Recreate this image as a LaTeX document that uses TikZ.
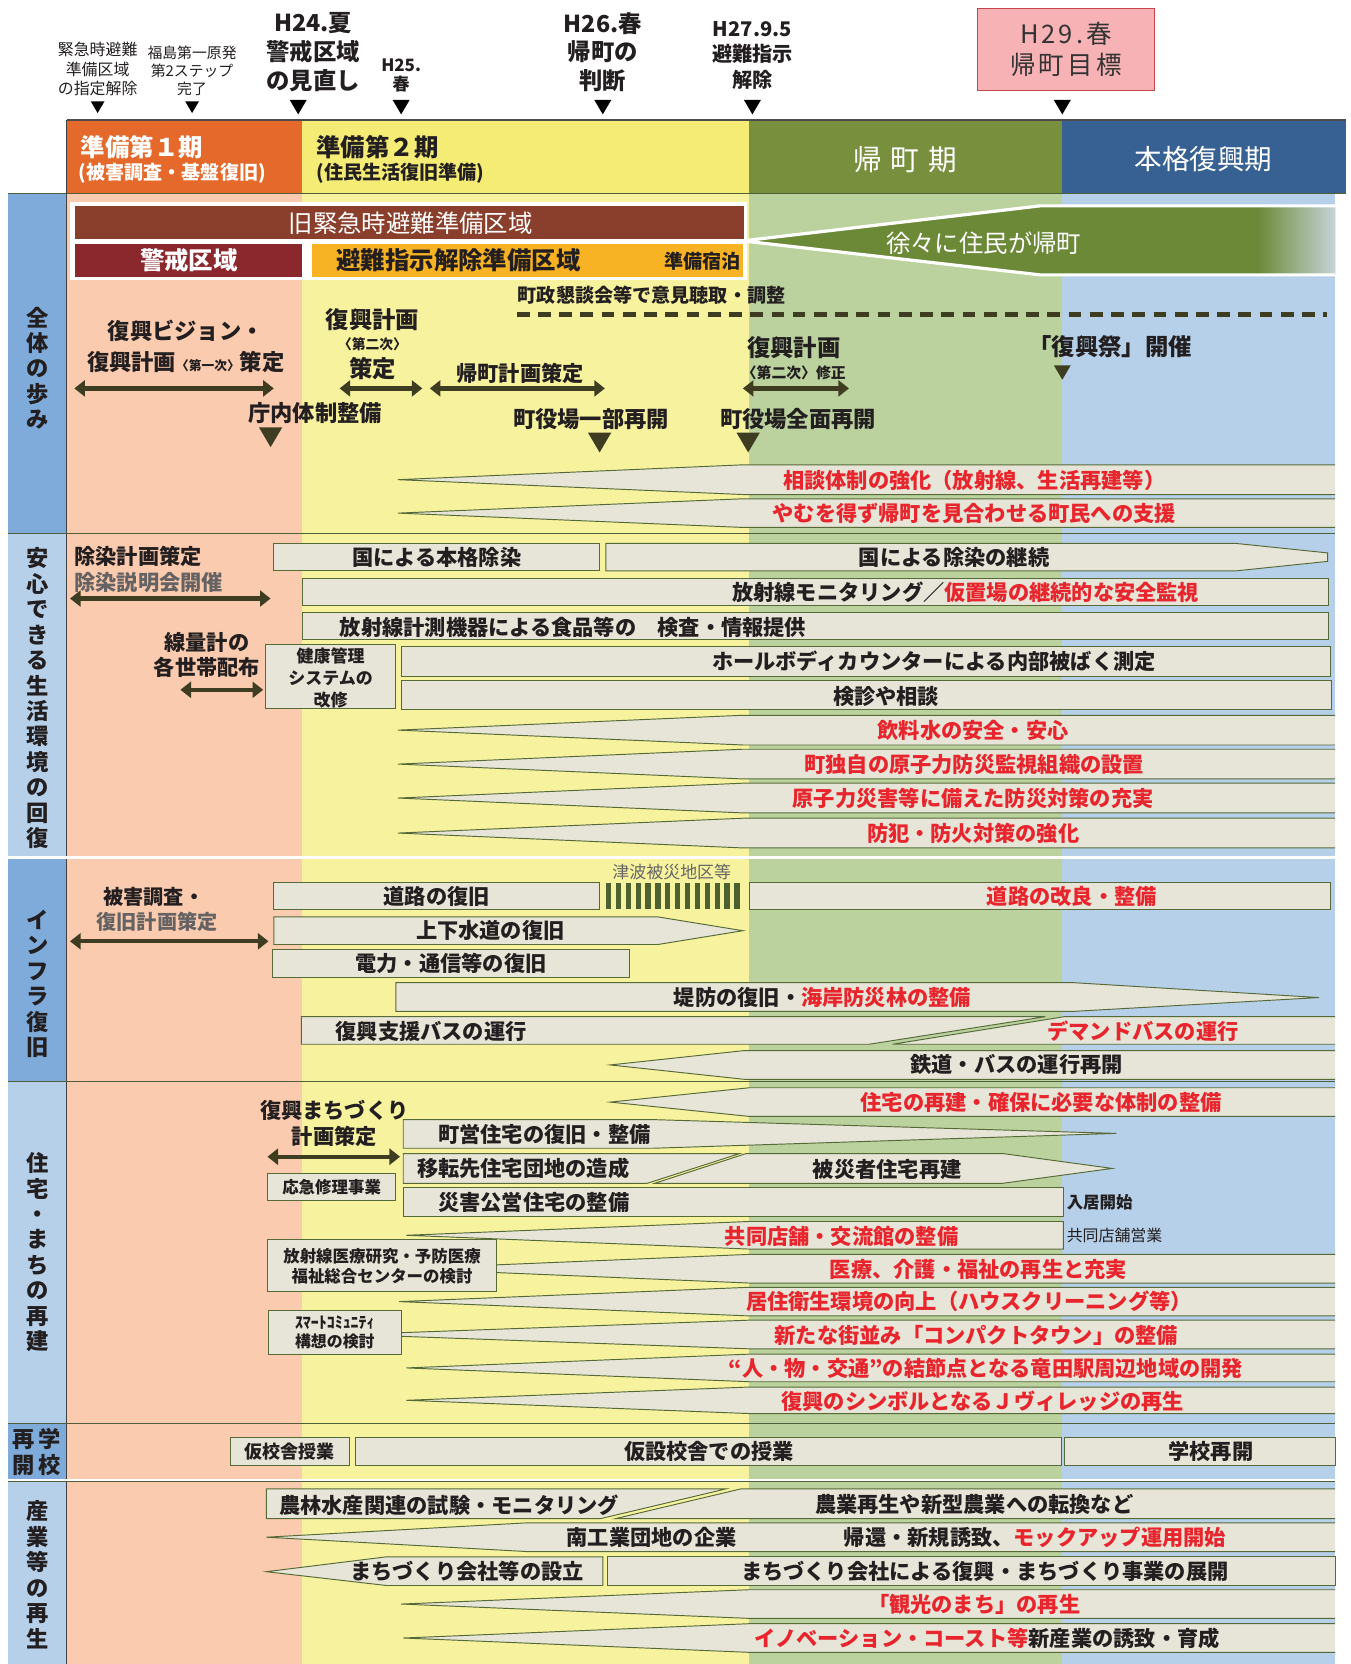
\documentclass[tikz,border=0pt]{standalone}
\usepackage{fontspec}
\setmainfont{Noto Sans CJK JP}
\usetikzlibrary{arrows.meta}
\definecolor{hOr}{HTML}{E4692A}
\definecolor{hYe}{HTML}{F4EC74}
\definecolor{hGr}{HTML}{78903E}
\definecolor{hBl}{HTML}{386193}
\definecolor{bOr}{HTML}{FACBAE}
\definecolor{bYe}{HTML}{F7F29E}
\definecolor{bGr}{HTML}{BBD29E}
\definecolor{bBl}{HTML}{B6D0EA}
\definecolor{lbM}{HTML}{7EABDA}
\definecolor{lbL}{HTML}{B6D0EA}
\definecolor{brn}{HTML}{8A3F2C}
\definecolor{dred}{HTML}{8B282D}
\definecolor{oyel}{HTML}{F8B324}
\definecolor{garr}{HTML}{6C8938}
\definecolor{fadec}{HTML}{C5D3D6}
\definecolor{beige}{HTML}{E7E4D8}
\definecolor{edgc}{HTML}{566A38}
\definecolor{rtx}{HTML}{E8252C}
\definecolor{txc}{HTML}{231F20}
\definecolor{arrc}{HTML}{3E3D22}
\definecolor{pkF}{HTML}{F6B2B4}
\definecolor{pkB}{HTML}{C8454B}
\definecolor{stripe}{HTML}{4C6030}
\definecolor{sepc}{HTML}{4F5F38}
\newcommand\tdn[4]{\fill[#4] ({#1-#3},{#2-0.85*#3}) -- ({#1+#3},{#2-0.85*#3}) -- (#1,{#2+0.85*#3}) -- cycle;}
\newcommand\wdg[4]{%
 \fill[beige] (#1,{(#2+#3)/2}) -- (#4,#2) -- (1258,#2) -- (1258,#3) -- (#4,#3) -- cycle;
 \draw[bline] (1258,#2) -- (#4,#2) -- (#1,{(#2+#3)/2}) -- (#4,#3) -- (1258,#3);}
\begin{document}
\begin{tikzpicture}[x=1pt,y=-1pt,
 fs/.style 2 args={font=\fontsize{#1}{#2}\selectfont\bfseries},
 fr/.style 2 args={font=\fontsize{#1}{#2}\selectfont},
 every node/.style={inner sep=0pt, text=txc},
 bline/.style={draw=edgc, line width=0.9pt},
 bx/.style={draw=edgc, fill=beige, line width=0.9pt},
 darr/.style={{Triangle[length=10pt,width=15pt]}-{Triangle[length=10pt,width=15pt]}, line width=4pt, draw=arrc},
 rt/.style={text=rtx},
 bt/.style={fs={20}{24}}]
\useasboundingbox (0,0) rectangle (1273,1568);
% ---------- header ----------
\fill[hOr] (63,113) rectangle (285,182);
\fill[hYe] (285,113) rectangle (706,182);
\fill[hGr] (706,113) rectangle (1001,182);
\fill[hBl] (1001,113) rectangle (1268,182);
\draw[gray!60!black, line width=1.2pt] (63,113) -- (1268,113);
% ---------- body columns ----------
\fill[bOr] (63,182) rectangle (285,1568);
\fill[bYe] (285,182) rectangle (706,1568);
\fill[bGr] (706,182) rectangle (1001,1568);
\fill[bBl] (1001,182) rectangle (1258,1568);
\fill[lbM] (8,182) rectangle (63,503);
\fill[lbL] (8,503) rectangle (63,808);
\fill[lbM] (8,808) rectangle (63,1019);
\fill[lbL] (8,1019) rectangle (63,1341);
\fill[lbM] (8,1341) rectangle (63,1395);
\fill[lbL] (8,1395) rectangle (63,1568);
\draw[sepc, line width=1pt] (8,182) -- (1268,182);
\draw[gray!50!black, line width=1pt] (63,113) -- (63,1568);
\draw[sepc, line width=1pt] (8,503) -- (1258,503);
\draw[sepc, line width=0.8pt, double=white, double distance=2pt] (8,808) -- (1258,808);
\draw[sepc, line width=1pt] (8,1019) -- (1258,1019);
\draw[sepc, line width=1pt] (8,1341) -- (1258,1341);
\draw[sepc, line width=0.8pt, double=white, double distance=2pt] (8,1395) -- (1258,1395);
% ---------- top markers ----------
\node[fr={15}{18}, align=center] (m1) at (92,65) {緊急時避難\\準備区域\\の指定解除};
\node[fr={14}{17}, align=center] (m2) at (181,67) {福島第一原発\\第2ステップ\\完了};
\node[fs={22}{27}, align=center] (m3) at (295,49) {H24.夏\\警戒区域\\の見直し};
\node[fs={16}{18}, align=center] (m4) at (378,71) {H25.\\春};
\node[fs={22}{27}, align=center] (m5) at (568,49) {H26.春\\帰町の\\判断};
\node[fs={19}{24}, align=center] (m6) at (709,52) {H27.9.5\\避難指示\\解除};
\node[draw=pkB, line width=1.2pt, fill=pkF, minimum width=167, minimum height=77,
      fr={24}{29}, align=center, text=black!80] (m7) at (1004.5,46.5)
      {\addfontfeature{LetterSpace=12}H29.春\\\addfontfeature{LetterSpace=12}帰町目標};
\tdn{92}{101}{6.5}{black}
\tdn{181}{101}{6.5}{black}
\tdn{281}{101}{8}{black}
\tdn{378}{101}{8}{black}
\tdn{568}{101}{8}{black}
\tdn{709}{101}{8}{black}
\tdn{1001}{101}{8}{black}
% ---------- header texts ----------
\node[fs={23}{26}, anchor=west, text=white] (h1a) at (76,139) {準備第１期};
\node[fs={18}{20}, anchor=west, text=white] (h1b) at (74,163) {(被害調査・基盤復旧)};
\node[fs={23}{26}, anchor=west] (h2a) at (298,139) {準備第２期};
\node[fs={18}{20}, anchor=west] (h2b) at (298,163) {(住民生活復旧準備)};
\node[fr={27}{30}, text=white] (h3) at (853,150) {帰\hspace{8pt}町\hspace{8pt}期};
\node[fr={26}{30}, text=white] (h4) at (1134,150) {本格復興期};
% ---------- left labels ----------
\node[fs={21}{24}, align=center] (L1) at (35,347) {全\\体\\の\\歩\\み};
\node[fs={21}{24}, align=center] (L2) at (35,658) {安\\心\\で\\き\\る\\生\\活\\環\\境\\の\\回\\復};
\node[fs={21}{24}, align=center] (L3) at (35,927) {イ\\ン\\フ\\ラ\\復\\旧};
\node[fs={21}{24}, align=center] (L4) at (35,1180) {住\\宅\\・\\ま\\ち\\の\\再\\建};
\node[fs={21}{24}, align=center] (L5) at (35,1368) {再\,学\\開\,校};
\node[fs={21}{24}, align=center] (L6) at (35,1484) {産\\業\\等\\の\\再\\生};
% ---------- section 1 ----------
\fill[white] (66,190) rectangle (704,264);
\fill[brn] (71,194) rectangle (701,225);
\fill[dred] (71,230) rectangle (285,261);
\fill[oyel] (294,230) rectangle (700,261);
\node[fr={23}{26}, text=white] (z1) at (387,210) {旧緊急時避難準備区域};
\node[fs={23}{26}, text=white] (z2) at (178,245) {警戒区域};
\node[fs={23}{26}] (z3) at (432,245) {避難指示解除準備区域};
\node[fs={18}{20}] (z4) at (662,246) {準備宿泊};
\path[fill=garr] (700,227) -- (980,194) -- (1258,194) -- (1258,259) -- (980,259) -- cycle;
\shade[left color=garr, right color=fadec] (1185,195.5) rectangle (1258,257.5);
\draw[white, line width=3pt] (1258,194) -- (980,194) -- (700,227) -- (980,259) -- (1258,259);
\node[fr={23}{26}, text=white] (z5) at (927,229) {徐々に住民が帰町};
\node[fs={18}{20}] (c1) at (614,278) {町政懇談会等で意見聴取・調整};
\coordinate (d1) at (487,296); \coordinate (d2) at (1250,296);
\draw[arrc, line width=4.5pt, dash pattern=on 12pt off 8pt] (d1) -- (d2);
\node[fs={21}{25}] (s1a) at (175,312) {復興ビジョン・};
\node[fs={21}{25}] (s1b) at (175,341) {復興計画{\fontsize{12}{12}\selectfont〈第一次〉}策定};
\coordinate (a1l) at (70,366); \coordinate (a1r) at (258,366);
\draw[darr] (a1l) -- (a1r);
\node[fs={22}{25}] (s2a) at (351,301) {復興計画};
\node[fs={13}{15}] (s2b) at (351,324) {〈第二次〉};
\node[fs={22}{25}] (s2c) at (351,347) {策定};
\coordinate (a2l) at (320,366); \coordinate (a2r) at (398,366);
\draw[darr] (a2l) -- (a2r);
\node[fs={20}{24}] (s3) at (490,352) {帰町計画策定};
\coordinate (a3l) at (405,366); \coordinate (a3r) at (570,366);
\draw[darr] (a3l) -- (a3r);
\node[fs={21}{24}] (s4) at (297,389) {庁内体制整備};
\tdn{255}{412}{11}{arrc}
\node[fs={21}{24}] (s5) at (557,395) {町役場一部再開};
\tdn{565}{417}{11}{arrc}
\node[fs={22}{25}] (s6a) at (748,328) {復興計画};
\node[fs={14}{16}] (s6b) at (748,351) {〈第二次〉修正};
\coordinate (a4l) at (700,366); \coordinate (a4r) at (800,366);
\draw[darr] (a4l) -- (a4r);
\node[fs={21}{24}] (s7) at (752,395) {町役場全面再開};
\tdn{705}{417}{11}{arrc}
\node[fs={22}{25}] (s8) at (1046,327) {「復興祭」開催};
\tdn{1001}{351}{8}{arrc}
\wdg{375}{438}{466}{700}
\node[bt, rt] (w1) at (918,453) {相談体制の強化（放射線、生活再建等）};
\wdg{375}{470}{497}{700}
\node[bt, rt] (w2) at (918,484) {やむを得ず帰町を見合わせる町民への支援};
% ---------- section 2 ----------
\node[bt, anchor=west] (k0a) at (70,524) {除染計画策定};
\node[bt, anchor=west, text=txc!70] (k0b) at (70,549) {除染説明会開催};
\coordinate (a5l) at (66,564); \coordinate (a5r) at (255,564);
\draw[darr] (a5l) -- (a5r);
\filldraw[bx] (258,512) rectangle (565,538);
\node[bt] (k1) at (411.5,525) {国による本格除染};
\filldraw[bx] (571,512) -- (1164,512) -- (1251,521) -- (1251,529) -- (1164,538) -- (571,538) -- cycle;
\node[bt] (k2) at (899,525) {国による除染の継続};
\filldraw[bx] (285,545) rectangle (1252,571);
\node[bt] (k3) at (910,558) {放射線モニタリング／\textcolor{rtx}{仮置場の継続的な安全監視}};
\filldraw[bx] (285,577) rectangle (1252,603);
\node[bt] (k4) at (540,591) {放射線計測機器による食品等の　検査・情報提供};
\node[bt] (k5a) at (195,605) {線量計の};
\node[bt] (k5b) at (195,629) {各世帯配布};
\coordinate (a6l) at (170,650); \coordinate (a6r) at (248,650);
\draw[darr] (a6l) -- (a6r);
\filldraw[bx] (250,607) rectangle (373,668);
\node[fs={16}{20.5}, align=center] (k6) at (311.5,639) {健康管理\\システムの\\改修};
\filldraw[bx] (378,609) rectangle (1254,637);
\node[bt] (k7) at (880,623) {ホールボディカウンターによる内部被ばく測定};
\filldraw[bx] (378,641) rectangle (1255,669);
\node[bt] (k8) at (835,656) {検診や相談};
\wdg{375}{674}{702}{700}
\node[bt, rt] (k9) at (917,688) {飲料水の安全・安心};
\wdg{375}{706}{734}{700}
\node[bt, rt] (k10) at (918,720) {町独自の原子力防災監視組織の設置};
\wdg{375}{738}{766}{700}
\node[bt, rt] (k11) at (917,752) {原子力災害等に備えた防災対策の充実};
\wdg{375}{771}{799}{700}
\node[bt, rt] (k12) at (917,785) {防犯・防火対策の強化};
% ---------- section 3 ----------
\node[fs={19}{22}] (f1) at (145,845) {被害調査・};
\node[fs={19}{22}, text=txc!70] (f2) at (148,869) {復旧計画策定};
\coordinate (a7l) at (66,887); \coordinate (a7r) at (253,887);
\draw[darr] (a7l) -- (a7r);
\node[fr={16}{18}, text=black!60] (f3) at (633,822) {津波被災地区等};
\foreach \i in {0,...,13} {\fill[stripe] ({571+\i*9.3},832) rectangle ++(5,25);}
\filldraw[bx] (258,832) rectangle (565,857);
\node[bt] (f4) at (411.5,845) {道路の復旧};
\filldraw[bx] (706,832) rectangle (1254,857);
\node[bt, rt] (f5) at (1010,845) {道路の改良・整備};
\filldraw[bx] (258,864) -- (620,864) -- (700,877) -- (620,890) -- (258,890) -- cycle;
\node[bt] (f6) at (462,877) {上下水道の復旧};
\filldraw[bx] (257,895) rectangle (593,921);
\node[bt] (f7) at (425,908) {電力・通信等の復旧};
\filldraw[bx] (373,926) -- (1012,926) -- (1243,940) -- (1012,953) -- (373,953) -- cycle;
\node[bt] (f8) at (775,940) {堤防の復旧・\textcolor{rtx}{海岸防災林の整備}};
\filldraw[bx] (284,958) -- (985,958) -- (819,984) -- (284,984) -- cycle;
\node[bt, anchor=west] (f9) at (316,972) {復興支援バスの運行};
\fill[beige] (1003,958) -- (1258,958) -- (1258,984) -- (841,984) -- cycle;
\draw[bline] (1258,958) -- (1003,958) -- (841,984) -- (1258,984);
\node[bt, rt] (f10) at (1077,972) {デマンドバスの運行};
\wdg{575}{990}{1017}{701}
\node[bt] (f11) at (958,1003) {鉄道・バスの運行再開};
% ---------- section 4 ----------
\wdg{575}{1025}{1052}{706}
\node[bt, rt] (g1) at (981,1039) {住宅の再建・確保に必要な体制の整備};
\node[bt] (g2a) at (315,1046) {復興まちづくり};
\node[bt] (g2b) at (315,1071) {計画策定};
\coordinate (a8l) at (252,1090); \coordinate (a8r) at (377,1090);
\draw[darr] (a8l) -- (a8r);
\filldraw[bx] (380,1055) -- (615,1055) -- (1052,1068) -- (615,1082) -- (380,1082) -- cycle;
\node[bt] (g3) at (513,1069) {町営住宅の復旧・整備};
\filldraw[bx] (380,1087) -- (697,1087) -- (610,1115) -- (380,1115) -- cycle;
\node[bt] (g4) at (493,1101) {移転先住宅団地の造成};
\filldraw[bx] (703,1087) -- (945,1087) -- (1048,1101) -- (945,1115) -- (617,1115) -- cycle;
\node[bt] (g5) at (836,1102) {被災者住宅再建};
\filldraw[bx] (252,1106) rectangle (373,1131);
\node[fs={15.5}{18}] (g6) at (312.5,1118.5) {応急修理事業};
\filldraw[bx] (380,1119) rectangle (1002,1146);
\node[bt] (g7) at (503,1133) {災害公営住宅の整備};
\node[fs={15.5}{18}, anchor=west] (g8) at (1005,1133) {入居開始};
\filldraw[bx] (383,1164) -- (706,1151) -- (1002,1151) -- (1002,1177) -- (706,1177) -- cycle;
\node[bt, rt] (g9) at (793,1165) {共同店舗・交流館の整備};
\node[fr={15}{18}, anchor=west] (g10) at (1005,1164) {共同店舗営業};
\wdg{380}{1182}{1209}{706}
\node[bt, rt] (g11) at (922,1196) {医療、介護・福祉の再生と充実};
\filldraw[bx] (252,1168) rectangle (468,1217);
\node[fs={15.5}{19}, align=center] (g12) at (360,1193) {放射線医療研究・予防医療\\福祉総合センターの検討};
\wdg{376}{1213}{1240}{706}
\node[bt, rt] (g13) at (913,1226) {居住衛生環境の向上（ハウスクリーニング等）};
\wdg{330}{1244}{1271}{706}
\node[bt, rt] (g14) at (920,1258) {新たな街並み「コンパクトタウン」の整備};
\filldraw[bx] (253,1235) rectangle (378,1276);
\node[fs={15}{18}, align=center] (g15) at (315.5,1256) {ｽﾏｰﾄｺﾐｭﾆﾃｨ\\構想の検討};
\wdg{383}{1276}{1302}{706}
\node[bt, rt] (g16) at (929,1289) {“人・物・交通”の結節点となる竜田駅周辺地域の開発};
\wdg{383}{1307}{1332}{706}
\node[bt, rt] (g17) at (926,1320) {復興のシンボルとなるＪヴィレッジの再生};
% ---------- section 5 ----------
\filldraw[bx] (217,1355) rectangle (329,1381);
\node[fs={17}{20}] (e1) at (273,1368) {仮校舎授業};
\filldraw[bx] (335,1355) rectangle (1000,1381);
\node[bt] (e2) at (668,1368) {仮設校舎での授業};
\filldraw[bx] (1003,1355) rectangle (1258,1381);
\node[bt] (e3) at (1141,1368) {学校再開};
% ---------- section 6 ----------
\filldraw[bx] (251,1403) -- (684,1403) -- (566,1431) -- (251,1431) -- cycle;
\node[bt, anchor=west] (i1) at (263,1418) {農林水産関連の試験・モニタリング};
\fill[beige] (698,1403) -- (1258,1403) -- (1258,1431) -- (580,1431) -- cycle;
\draw[bline] (1258,1403) -- (698,1403) -- (580,1431) -- (1258,1431);
\node[bt] (i2) at (918,1418) {農業再生や新型農業への転換など};
\wdg{251}{1435}{1462}{496}
\node[bt] (i3) at (614,1449) {南工業団地の企業};
\node[bt, anchor=west] (i4) at (795,1449) {帰還・新規誘致、\textcolor{rtx}{モックアップ運用開始}};
\filldraw[bx] (251,1481) -- (364,1467) -- (568,1467) -- (568,1494) -- (364,1494) -- cycle;
\node[bt] (i5) at (440,1481) {まちづくり会社等の設立};
\filldraw[bx] (572,1467) rectangle (1258,1494);
\node[bt] (i6) at (928,1481) {まちづくり会社による復興・まちづくり事業の展開};
\wdg{378}{1498}{1525}{706}
\node[bt, rt] (i7) at (918,1512) {「観光のまち」の再生};
\wdg{380}{1530}{1557}{706}
\node[bt] (i8) at (930,1544) {\textcolor{rtx}{イノベーション・コースト等}新産業の誘致・育成};
\end{tikzpicture}
\end{document}
